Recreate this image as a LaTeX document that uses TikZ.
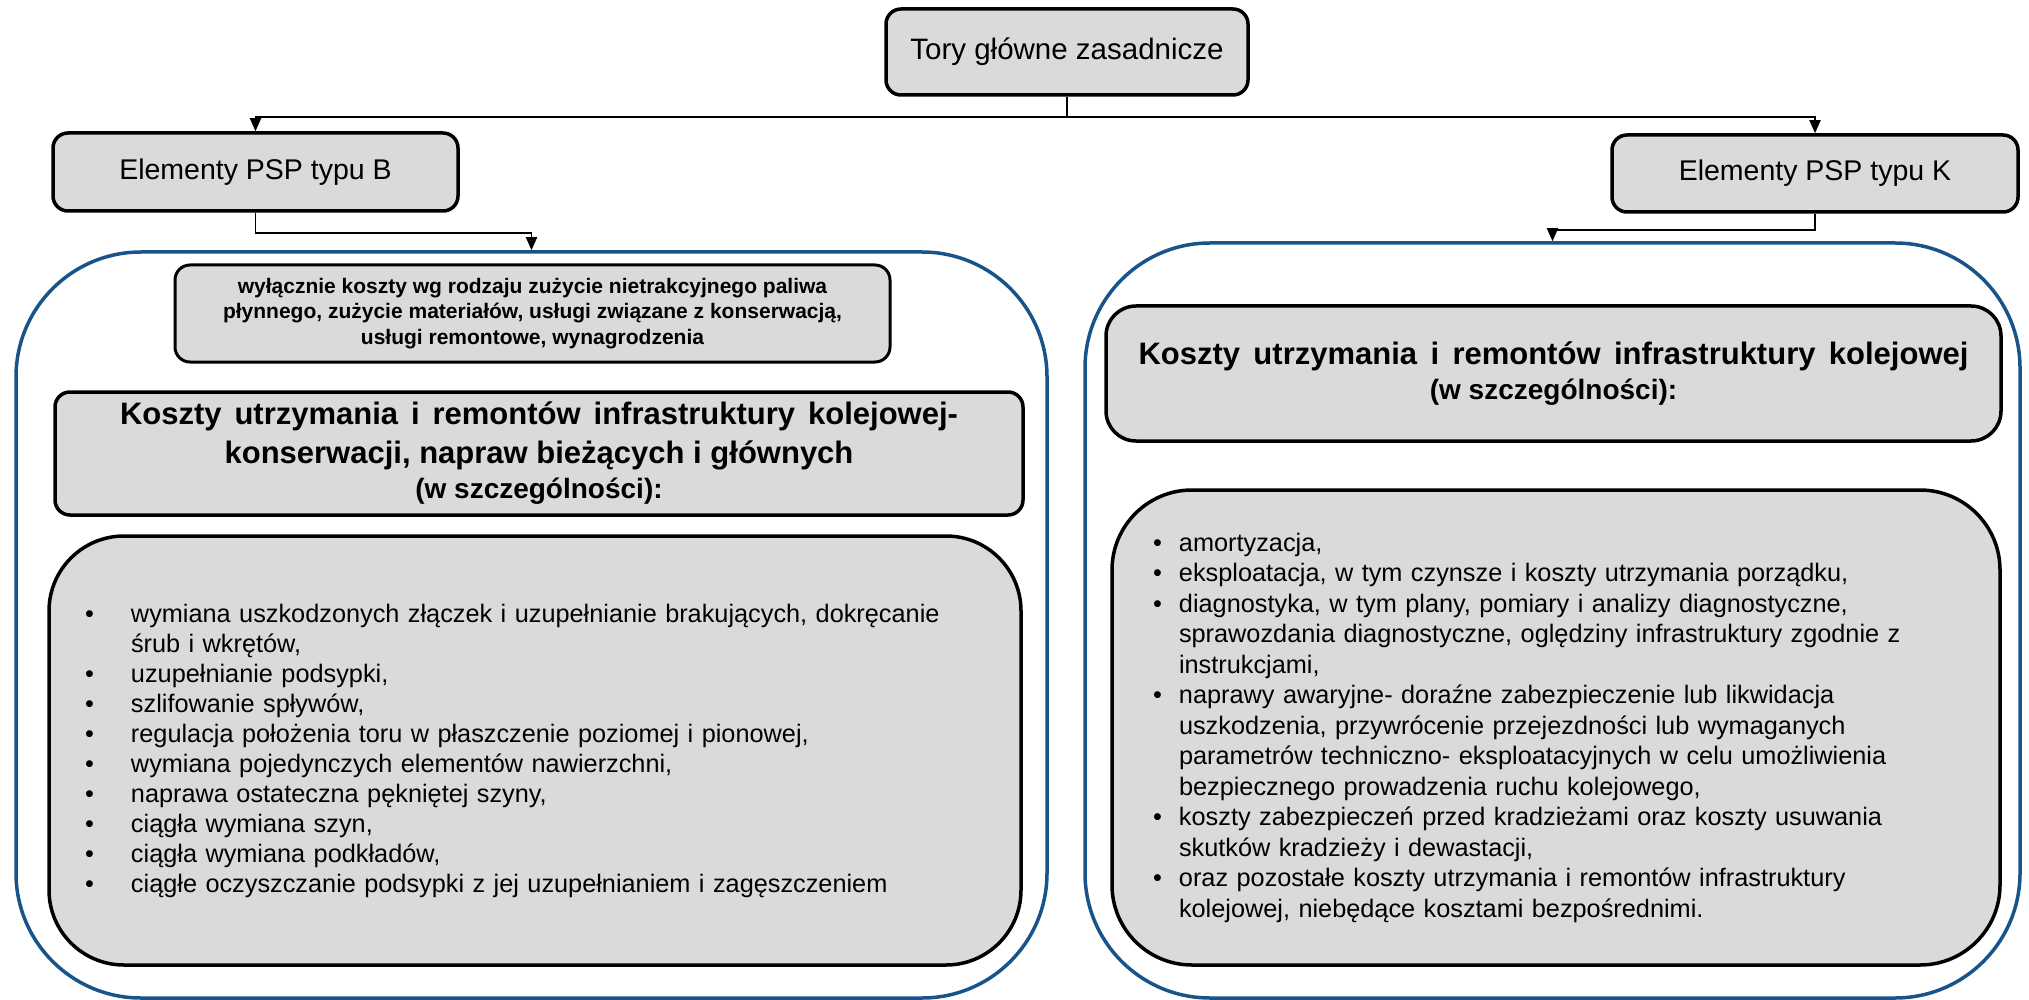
\documentclass[tikz,border=0pt]{standalone}
\usepackage{fontspec}
\setmainfont{Liberation Sans}
\usetikzlibrary{arrows.meta,positioning}
\definecolor{boxgray}{RGB}{217,218,218}
\definecolor{frameblue}{RGB}{24,84,138}
\newcommand{\pktB}{\makebox[46pt][l]{\textbullet}}
\newcommand{\dalB}{\hspace*{46pt}}
\newcommand{\pktK}{\makebox[26pt][l]{\textbullet}}
\newcommand{\dalK}{\hspace*{26pt}}

\begin{document}
\begin{tikzpicture}[
    x=1pt, y=-1pt, >={Triangle[length=13pt,width=11pt]},
    box/.style={draw=black, line width=3.5pt, fill=boxgray, rounded corners=15pt,
        inner sep=0pt, align=center},
    frame/.style={draw=frameblue, line width=3.5pt, rounded corners=125pt, inner sep=0pt},
    link/.style={->, line width=1.8pt},
    every node/.style={font=\fontsize{28.5}{34}\selectfont}
]
\useasboundingbox (0,0) rectangle (2029,1000);

\node[frame, minimum width=1031pt, minimum height=746pt] (ramaB) at (531.5,625) {};
\node[frame, minimum width=935pt, minimum height=755pt] (ramaK) at (1552.5,620.5) {};

\node[box, minimum width=362pt, minimum height=86pt, font=\fontsize{29.5}{34}\selectfont]
    (tory) at (1067,52) {Tory główne zasadnicze};
\node[box, minimum width=405pt, minimum height=78pt] (typB) at (255.5,172) {Elementy PSP typu B};
\node[box, minimum width=406pt, minimum height=77pt] (typK) at (1815,173.5) {Elementy PSP typu K};

\node[box, line width=3pt, minimum width=715pt, minimum height=97pt,
    font=\bfseries\fontsize{21}{25.5}\selectfont] (tylkoB) at (532.5,313.5)
    {wyłącznie koszty wg rodzaju zużycie nietrakcyjnego paliwa\\
     płynnego, zużycie materiałów, usługi związane z konserwacją,\\
     usługi remontowe, wynagrodzenia};
\node[box, minimum width=968pt, minimum height=123pt,
    font=\bfseries\fontsize{31}{39}\selectfont] (kosztB) at (539,453.5)
    {\makebox[838pt][s]{Koszty utrzymania i remontów infrastruktury kolejowej-}\\
     konserwacji, napraw bieżących i głównych\\[-4pt]
     {\fontsize{28}{35}\selectfont(w szczególności):}};
\node[box, rounded corners=75pt, minimum width=972pt, minimum height=429pt, text width=900pt,
    align=left, font=\fontsize{25.3}{30}\selectfont] (listaB) at (535,750.5)
    {\pktB wymiana uszkodzonych złączek i uzupełnianie brakujących, dokręcanie\\
     \dalB śrub i wkrętów,\\
     \pktB uzupełnianie podsypki,\\
     \pktB szlifowanie spływów,\\
     \pktB regulacja położenia toru w płaszczenie poziomej i pionowej,\\
     \pktB wymiana pojedynczych elementów nawierzchni,\\
     \pktB naprawa ostateczna pękniętej szyny,\\
     \pktB ciągła wymiana szyn,\\
     \pktB ciągła wymiana podkładów,\\
     \pktB ciągłe oczyszczanie podsypki z jej uzupełnianiem i zagęszczeniem};

\node[box, rounded corners=30pt, minimum width=895pt, minimum height=135pt,
    font=\bfseries\fontsize{31}{35}\selectfont] (kosztK) at (1553.5,373.5)
    {\makebox[830pt][s]{Koszty utrzymania i remontów infrastruktury kolejowej}\\
     {\fontsize{28}{35}\selectfont(w szczególności):}};
\node[box, rounded corners=80pt, minimum width=888pt, minimum height=475pt, text width=806pt,
    align=left, font=\fontsize{25.3}{30.5}\selectfont] (listaK) at (1556,727.5)
    {\pktK amortyzacja,\\
     \pktK eksploatacja, w tym czynsze i koszty utrzymania porządku,\\
     \pktK diagnostyka, w tym plany, pomiary i analizy diagnostyczne,\\
     \dalK sprawozdania diagnostyczne, oględziny infrastruktury zgodnie z\\
     \dalK instrukcjami,\\
     \pktK naprawy awaryjne- doraźne zabezpieczenie lub likwidacja\\
     \dalK uszkodzenia, przywrócenie przejezdności lub wymaganych\\
     \dalK parametrów techniczno- eksploatacyjnych w celu umożliwienia\\
     \dalK bezpiecznego prowadzenia ruchu kolejowego,\\
     \pktK koszty zabezpieczeń przed kradzieżami oraz koszty usuwania\\
     \dalK skutków kradzieży i dewastacji,\\
     \pktK oraz pozostałe koszty utrzymania i remontów infrastruktury\\
     \dalK kolejowej, niebędące kosztami bezpośrednimi.};

\draw[link] (tory.south) -- ++(0,20) -| (typB.north);
\draw[link] (tory.south) -- ++(0,20) -| (typK.north);
\draw[link] (typB.south) -- ++(0,20) -| (ramaB.north);
\draw[link] (typK.south) -- ++(0,16) -| (ramaK.north);
\end{tikzpicture}
\end{document}
